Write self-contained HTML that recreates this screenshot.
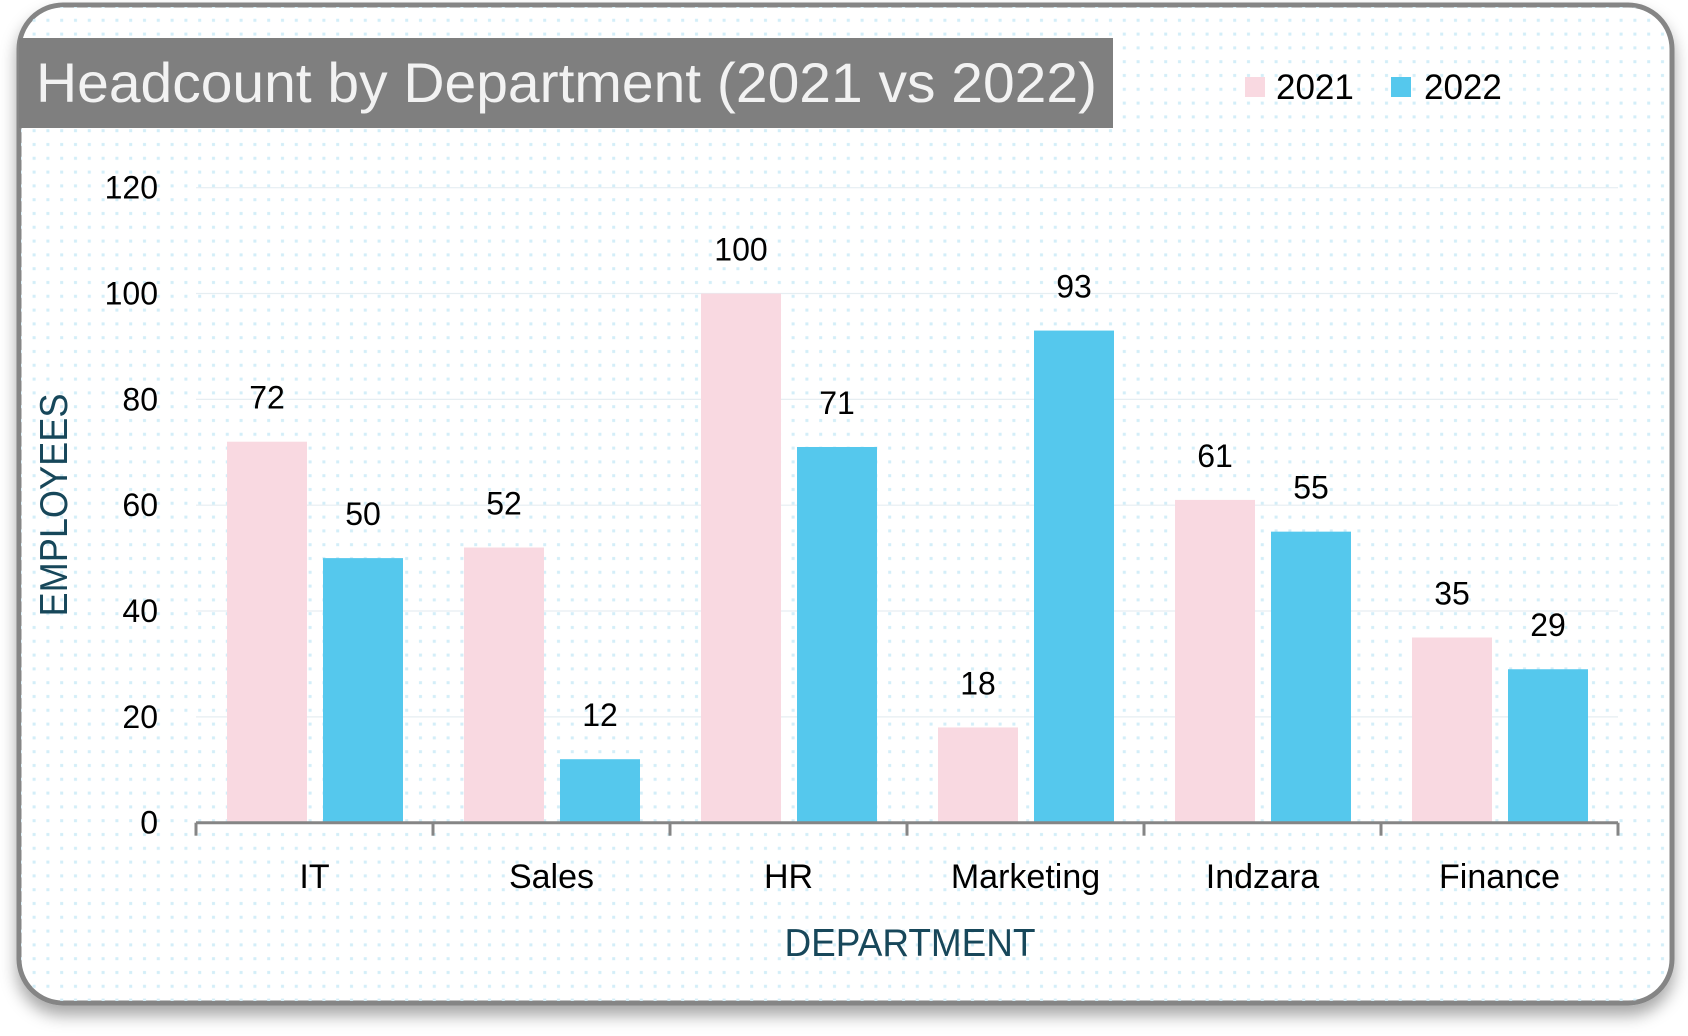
<!DOCTYPE html>
<html><head><meta charset="utf-8"><style>
html,body{margin:0;padding:0;background:#fff;width:1688px;height:1036px;overflow:hidden}
svg{display:block;font-family:"Liberation Sans",sans-serif}
</style></head><body>
<svg width="1688" height="1036" viewBox="0 0 1688 1036">
<defs>
<pattern id="dots" width="13.8" height="13.8" patternUnits="userSpaceOnUse">
<rect x="5" y="5" width="3" height="3" fill="#d3eef8"/>
</pattern>
<filter id="sh" x="-5%" y="-5%" width="110%" height="115%"><feDropShadow dx="0" dy="10" stdDeviation="8" flood-color="#000" flood-opacity="0.35"/></filter>
</defs>
<rect x="19" y="5" width="1653" height="998" rx="44" fill="#fff" stroke="#858585" stroke-width="5" filter="url(#sh)"/>
<rect x="21" y="7" width="1649" height="994" rx="42" fill="url(#dots)"/>
<rect x="19" y="38" width="1094" height="90" fill="#7f7f7f"/>
<text x="36" y="102" font-size="56" fill="#f2f2f2" textLength="1061" lengthAdjust="spacingAndGlyphs">Headcount by Department (2021 vs 2022)</text>
<g>
<rect x="1245" y="77" width="20" height="20" fill="#f9d9e1"/>
<text x="1276" y="99" font-size="35" fill="#000">2021</text>
<rect x="1391" y="77" width="20" height="20" fill="#55c8ed"/>
<text x="1424" y="99" font-size="35" fill="#000">2022</text>
</g>
<g id="grid"></g>
<g id="bars"></g>
<g id="axes"></g>
<text x="910" y="956" font-size="39" fill="#17475a" text-anchor="middle" textLength="251" lengthAdjust="spacingAndGlyphs">DEPARTMENT</text>
<text transform="translate(67,505) rotate(-90)" font-size="39" fill="#17475a" text-anchor="middle" textLength="223" lengthAdjust="spacingAndGlyphs">EMPLOYEES</text>
</svg>
<script>
const categories=["IT","Sales","HR","Marketing","Indzara","Finance"];
const values2021=[72,52,100,18,61,35];
const values2022=[50,12,71,93,55,29];
const yTicks=[0,20,40,60,80,100,120];
const NS="http://www.w3.org/2000/svg";
const x0=196,catW=237,y0=822.7,yTop=187.7,yMax=120;
function yScale(v){return y0-(v/yMax)*(y0-yTop);}
function xCat(i){return x0+i*catW;}
function mk(tag,attrs,parent,txt){const e=document.createElementNS(NS,tag);for(const k in attrs)e.setAttribute(k,attrs[k]);if(txt!==undefined)e.textContent=txt;parent.appendChild(e);return e;}
const grid=document.getElementById('grid'),bars=document.getElementById('bars'),axes=document.getElementById('axes');
yTicks.forEach(t=>{
  const y=yScale(t);
  if(t>0){const g=mk('line',{x1:x0,x2:x0+catW*categories.length,y1:y,y2:y,stroke:'#e6eef2','stroke-width':1.2},grid);
  
  }
  const l=mk('text',{x:158,y:y+11,'font-size':32,'text-anchor':'end',fill:'#000'},axes,String(t));
  
  
});
const bw=80;
categories.forEach((c,i)=>{
  const cx=xCat(i);
  [[values2021,31,'#f9d9e1','2021'],[values2022,127,'#55c8ed','2022']].forEach(([arr,off,col,yr])=>{
    const v=arr[i],y=yScale(v);
    const r=mk('rect',{x:cx+off,y:y,width:bw,height:y0-y,fill:col},bars);
    
    
    const t=mk('text',{x:cx+off+bw/2,y:y-33,'font-size':32,'text-anchor':'middle',fill:'#000'},bars,String(v));
    
    
  });
  const cl=mk('text',{x:cx+catW/2,y:888,'font-size':34,'text-anchor':'middle',fill:'#000'},axes,c);
  
  
});
const ax=mk('line',{x1:x0,x2:x0+catW*categories.length,y1:y0,y2:y0,stroke:'#858585','stroke-width':3},axes);


for(let i=0;i<=categories.length;i++){
  const tk=mk('line',{x1:xCat(i),x2:xCat(i),y1:y0,y2:y0+13,stroke:'#858585','stroke-width':3},axes);
  
  
}
</script>
</body></html>
